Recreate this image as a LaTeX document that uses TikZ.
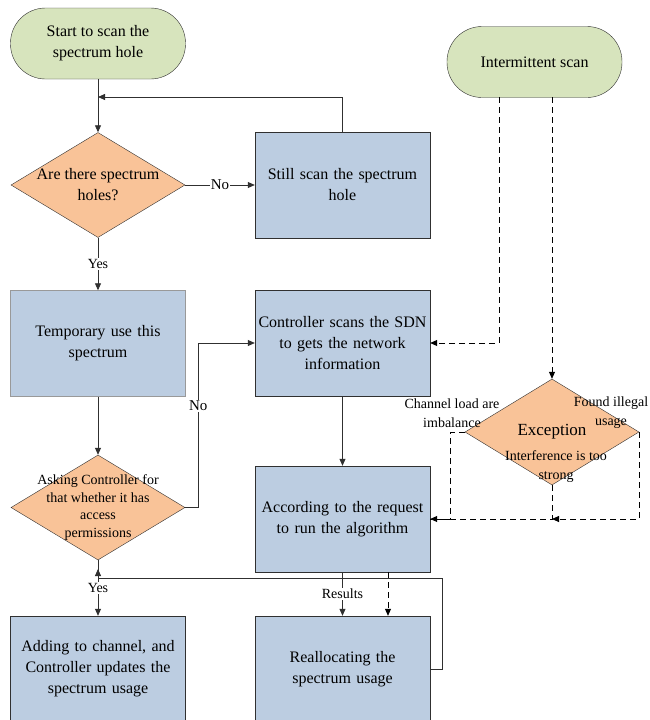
\documentclass[tikz,border=0pt]{standalone}
\usepackage{fontspec}
\setmainfont{Liberation Serif}
\usetikzlibrary{shapes.geometric,arrows.meta}
\definecolor{cgreen}{HTML}{D7E4BD}
\definecolor{corange}{HTML}{F9C398}
\definecolor{cblue}{HTML}{BCCDE1}
\definecolor{cline}{HTML}{303030}
\begin{document}
\begin{tikzpicture}[x=1pt,y=-1pt,
  every node/.style={font=\fontsize{16}{21}\selectfont, align=center},
  term/.style={draw=cline, fill=cgreen, rounded corners=35pt, minimum width=175pt, minimum height=71pt, inner sep=0pt},
  procbox/.style={draw=cline, fill=cblue, minimum width=175pt, minimum height=106pt, inner sep=0pt, text width=174pt},
  decide/.style={diamond, draw=cline, fill=corange, minimum width=174pt, minimum height=105pt, inner sep=0pt},
  small/.style={font=\fontsize{14}{19}\selectfont},
  smaller/.style={font=\fontsize{14}{17.5}\selectfont},
  lbl/.style={fill=white, inner sep=1pt, font=\fontsize{15}{16}\selectfont},
  slbl/.style={fill=white, inner sep=1pt, font=\fontsize{14}{16}\selectfont},
  arr/.style={draw=cline, line width=0.8pt, -{Triangle[length=7pt,width=6pt]}},
  ln/.style={draw=cline, line width=0.8pt},
  dsh/.style={draw=black, line width=0.8pt, dash pattern=on 6pt off 4pt},
  darr/.style={dsh, -{Triangle[length=7pt,width=6pt]}}
]
\useasboundingbox (0,0) rectangle (649,720);
\fill[white] (0,0) rectangle (649,720);

% nodes
\node[term] (start) at (98,43.5) {Start to scan the\\spectrum hole};
\node[term] (inter) at (534.5,62) {Intermittent scan};
\node[decide] (d1) at (98,185) {};
\node at (98,185) {Are there spectrum\\holes?};
\node[procbox] (still) at (342.5,185) {Still scan the spectrum\\hole};
\node[procbox, draw=gray!80] (temp) at (98,343.5) {Temporary use this\\spectrum};
\node[procbox] (ctrl) at (342.5,343) {Controller scans the SDN\\to gets the network\\information};
\node[decide, minimum height=106pt] (exc) at (552,432) {};
\node[font=\fontsize{17}{20}\selectfont] (exct) at (552,432) {Exception};
\node[small] (lload) at (452,413) {Channel load are\\imbalance};
\node[small] (lillegal) at (611,413) {Found illegal\\usage};
\node[small] (linterf) at (556,467) {Interference is too\\strong};
\node[decide] (ask) at (98,507.5) {};
\node[smaller] at (98,507.5) {Asking Controller for\\that whether it has\\access\\permissions};
\node[procbox] (algo) at (342.5,519) {According to the request\\to run the algorithm};
\node[procbox] (add) at (98,669) {Adding to channel, and\\Controller updates the\\spectrum usage};
\node[procbox] (realloc) at (342.5,669) {Reallocating the\\spectrum usage};

% coordinates
\coordinate (j1) at (98,97);
\coordinate (i1) at (499,97);
\coordinate (i2) at (552,97);
\coordinate (r1) at (388,572);
\coordinate (jf) at (98,578);

% solid connectors
\draw[arr] (start.south) -- (d1.north);
\draw[arr] (still.north) |- (j1);
\draw[arr] (d1.east) -- node[lbl, pos=0.5] {No} (still.west);
\draw[arr] (d1.south) -- node[slbl, pos=0.5] {Yes} (temp.north);
\draw[arr] (temp.south) -- (ask.north);
\draw[arr] (ask.east) -- ++(13,0) |- node[lbl, pos=0.31] {No} (ctrl.west);
\draw[arr] (ctrl.south) -- (algo.north);
\draw[arr] (ask.south) -- node[slbl, pos=0.5] {Yes} (add.north);
\draw[arr] (algo.south) -- node[slbl, pos=0.5] {Results} (realloc.north);
\draw[ln] (realloc.east) -- ++(12,0) |- (jf);
\draw[arr] (jf) -- ++(0,-9);

% dashed connectors
\draw[darr] (i1) |- (ctrl.east);
\draw[darr] (i2) -- (exc.north);
\draw[dsh] (exc.west) -- ++(-14,0) |- (algo.east);
\draw[darr] (exc.south) |- (algo.east);
\draw[darr] (exc.east) |- (exc.south |- algo.east);
\draw[darr] (r1) -- (r1 |- realloc.north);
\end{tikzpicture}
\end{document}
